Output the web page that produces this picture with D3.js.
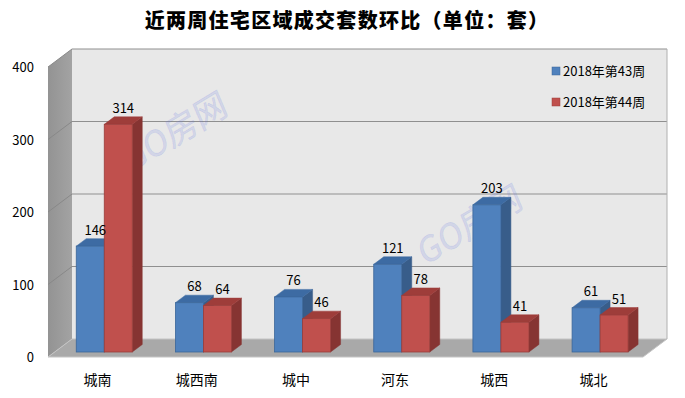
<!DOCTYPE html>
<html>
<head>
<meta charset="utf-8">
<script src="https://cdn.jsdelivr.net/npm/d3@7"></script>
<style>
    body { margin: 0; background: #fff; }
    svg { display: block; font-family: "Noto Sans CJK SC", "Noto Sans", sans-serif; }
</style>
</head>
<body>
<div id="chart"></div>
<script>
'use strict';

var categories = ['城南', '城西南', '城中', '河东', '城西', '城北'];
var seriesNames = ['2018年第43周', '2018年第44周'];
var week43 = [146, 68, 76, 121, 203, 61];
var week44 = [314, 64, 46, 78, 41, 51];
var yTicks = [0, 100, 200, 300, 400];

var colors = [
    {front: '#4f81bd', top: '#3d6ba3', side: '#385d8a', stroke: '#3b6699'},
    {front: '#c0504d', top: '#9e3d3a', side: '#863432', stroke: '#9a3e3b'}
];

(function () {
    var width = 685,
        height = 398,
        // floor / wall geometry (front plane)
        plotLeft = 48,
        plotRight = 643,
        plotBottom = 357,
        plotTop = 67,
        wallDx = 24,   // depth of the walls
        wallDy = 18,
        barZ = 5,      // bars start this far (in y) behind the front plane
        barDy = 7.5,   // bar depth
        barDx = 10,
        barWidth = 28;

    var svg = d3.select('#chart').append('svg')
        .attr('width', width)
        .attr('height', height);

    var defs = svg.append('defs');
    var grad = defs.append('linearGradient')
        .attr('id', 'sideWall')
        .attr('x1', '0').attr('x2', '1').attr('y1', '0').attr('y2', '0');
    grad.append('stop').attr('offset', '0%').attr('stop-color', '#939393');
    grad.append('stop').attr('offset', '100%').attr('stop-color', '#a3a3a3');

    var x = d3.scaleBand().domain(categories).range([plotLeft, plotRight]).padding(0);
    var xs = d3.scaleBand().domain(seriesNames).range([-barWidth, barWidth]).padding(0);
    var yFront = d3.scaleLinear().domain([0, 400]).range([plotBottom, plotTop]);

    function yAt(v, z) {
        return yFront(v) - z;
    }

    function xShift(z) {
        return z * wallDx / wallDy;
    }

    // title
    svg.append('text')
        .attr('x', 347)
        .attr('y', 28)
        .attr('text-anchor', 'middle')
        .style('font-size', '20px')
        .style('font-weight', '900')
        .style('letter-spacing', '1.3px')
        .style('fill', '#000')
        .text('近两周住宅区域成交套数环比（单位：套）');

    // back wall
    var backLeft = plotLeft + wallDx,
        backRight = plotRight + wallDx;

    svg.append('rect')
        .attr('x', backLeft)
        .attr('y', yAt(400, wallDy))
        .attr('width', backRight - backLeft)
        .attr('height', yAt(0, wallDy) - yAt(400, wallDy))
        .style('fill', '#e8e8e8');

    // side wall
    svg.append('path')
        .attr('d', d3.line()([
            [plotLeft, yAt(400, 0)],
            [backLeft, yAt(400, wallDy)],
            [backLeft, yAt(0, wallDy)],
            [plotLeft, yAt(0, 0)]
        ]) + 'Z')
        .style('fill', 'url(#sideWall)');

    // floor
    svg.append('path')
        .attr('d', d3.line()([
            [plotLeft, yAt(0, 0)],
            [backLeft, yAt(0, wallDy)],
            [backRight, yAt(0, wallDy)],
            [plotRight, yAt(0, 0)]
        ]) + 'Z')
        .style('fill', '#a9a9a9')
        .style('stroke', '#c4c4c4')
        .style('stroke-width', 1);

    // gridlines
    var grid = svg.append('g').attr('class', 'grid');
    yTicks.filter(function (t) { return t > 0; }).forEach(function (t) {
        grid.append('line')
            .attr('x1', backLeft).attr('x2', backRight)
            .attr('y1', yAt(t, wallDy)).attr('y2', yAt(t, wallDy))
            .style('stroke', '#8f8f8f')
            .style('stroke-width', 1.2);
        grid.append('line')
            .attr('x1', plotLeft).attr('x2', backLeft)
            .attr('y1', yAt(t, 0)).attr('y2', yAt(t, wallDy))
            .style('stroke', '#888')
            .style('stroke-width', 1);
    });
    grid.append('line')
        .attr('x1', backRight).attr('x2', backRight)
        .attr('y1', yAt(400, wallDy)).attr('y2', yAt(0, wallDy))
        .style('stroke', '#b0b0b0');

    // y labels
    svg.append('g').selectAll('text')
        .data(yTicks)
        .enter().append('text')
        .attr('x', 34)
        .attr('y', function (d) { return yAt(d, 0) + 5; })
        .attr('text-anchor', 'end')
        .style('font-size', '13px')
        .style('fill', '#000')
        .text(function (d) { return d; });

    // watermarks
    [[175, 132], [470, 225]].forEach(function (p) {
        svg.append('text')
            .attr('transform', 'translate(' + p[0] + ',' + p[1] + ') rotate(-31) skewX(-8)')
            .attr('text-anchor', 'middle')
            .attr('dy', '0.35em')
            .style('font-size', '34px')
            .style('fill', 'rgba(95,115,230,0.17)')
            .style('stroke', 'rgba(95,115,230,0.12)')
            .style('stroke-width', 0.8)
            .text('GO房网');
    });

    // bars
    var bars = svg.append('g').attr('class', 'bars');
    var seriesData = [week43, week44];
    var shift = xShift(barZ);

    categories.forEach(function (cat, i) {
        var cx = x(cat) + x.bandwidth() / 2 + shift;

        seriesNames.forEach(function (name, s) {
            var v = seriesData[s][i],
                c = colors[s],
                x0 = cx + xs(name),
                x1 = x0 + barWidth,
                yb = yAt(0, barZ),
                yt = yAt(v, barZ),
                g = bars.append('g').attr('class', 'bar');

            // side face
            g.append('path')
                .attr('d', d3.line()([[x1, yb], [x1, yt], [x1 + barDx, yt - barDy], [x1 + barDx, yb - barDy]]) + 'Z')
                .style('fill', c.side)
                .style('stroke', c.side).style('stroke-width', 0.5);
            // top face
            g.append('path')
                .attr('d', d3.line()([[x0, yt], [x0 + barDx, yt - barDy], [x1 + barDx, yt - barDy], [x1, yt]]) + 'Z')
                .style('fill', c.top)
                .style('stroke', c.top).style('stroke-width', 0.5);
            // front face
            g.append('rect')
                .attr('x', x0)
                .attr('y', yt)
                .attr('width', barWidth)
                .attr('height', yb - yt)
                .style('fill', c.front)
                .style('stroke', c.stroke)
                .style('stroke-width', 0.8);
        });

        // value labels drawn after both bars
        seriesNames.forEach(function (name, s) {
            var v = seriesData[s][i];
            svg.append('text')
                .attr('x', cx + xs(name) + barWidth / 2 + barDx / 2)
                .attr('y', yAt(v, barZ) - barDy - 4)
                .attr('text-anchor', 'middle')
                .style('font-size', '13px')
                .style('fill', '#000')
                .text(v);
        });
    });

    // category labels
    svg.append('g').selectAll('text')
        .data(categories)
        .enter().append('text')
        .attr('x', function (d) { return x(d) + x.bandwidth() / 2; })
        .attr('y', 385)
        .attr('text-anchor', 'middle')
        .style('font-size', '14px')
        .style('fill', '#000')
        .text(function (d) { return d; });

    // legend
    var legend = svg.append('g').attr('class', 'legend');
    seriesNames.forEach(function (name, s) {
        var ly = 71 + s * 31;
        legend.append('rect')
            .attr('x', 552)
            .attr('y', ly - 4)
            .attr('width', 8)
            .attr('height', 8)
            .style('fill', colors[s].front)
            .style('stroke', colors[s].stroke)
            .style('stroke-width', 0.5);
        legend.append('text')
            .attr('x', 563)
            .attr('y', ly + 5)
            .style('font-size', '13px')
            .style('fill', '#000')
            .text(name);
    });
})();
</script>
</body>
</html>
